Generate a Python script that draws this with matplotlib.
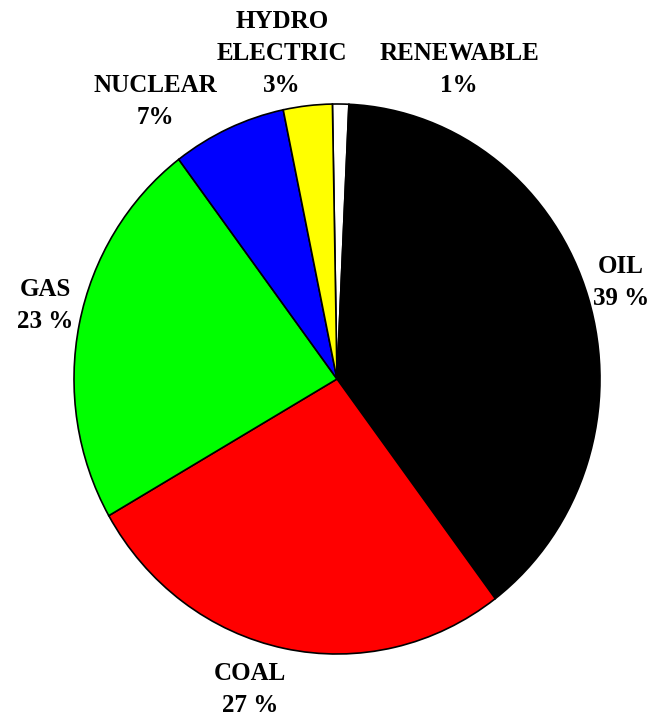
import matplotlib.pyplot as plt

##Datos del gráfico
fuentes = ['RENEWABLE', 'OIL', 'COAL', 'GAS', 'NUCLEAR', 'HYDRO\nELECTRIC']
porcentajes = [1, 39, 27, 23, 7, 3]
etiquetas_pct = ['1%', '39 %', '27 %', '23 %', '7%', '3%']
colores = ['white', 'black', 'red', '#00ff00', 'blue', 'yellow']

#Posición de las etiquetas (pixeles de la imagen)
pos_etiquetas = [(459, 70), (621, 282), (250, 690), (45, 306), (155, 101), (282, 54)]

W, H = 657, 721
fig = plt.figure(figsize=(W / 100, H / 100), dpi=100)
ax = fig.add_axes([74 / W, (H - 654) / H, 526 / W, 550 / H])

ax.pie(porcentajes, colors=colores, startangle=91, counterclock=False,
       wedgeprops={'edgecolor': 'black', 'linewidth': 1.2})
ax.set_aspect('auto')
ax.set_xlim(-1, 1)
ax.set_ylim(-1, 1)

#Etiquetas
for nombre, pct, (px, py) in zip(fuentes, etiquetas_pct, pos_etiquetas):
    fig.text(px / W, 1 - py / H, nombre + '\n' + pct, ha='center', va='center',
             fontsize=18, fontweight='bold', family='Liberation Serif',
             linespacing=1.5)

plt.savefig('out.png', dpi=100)
